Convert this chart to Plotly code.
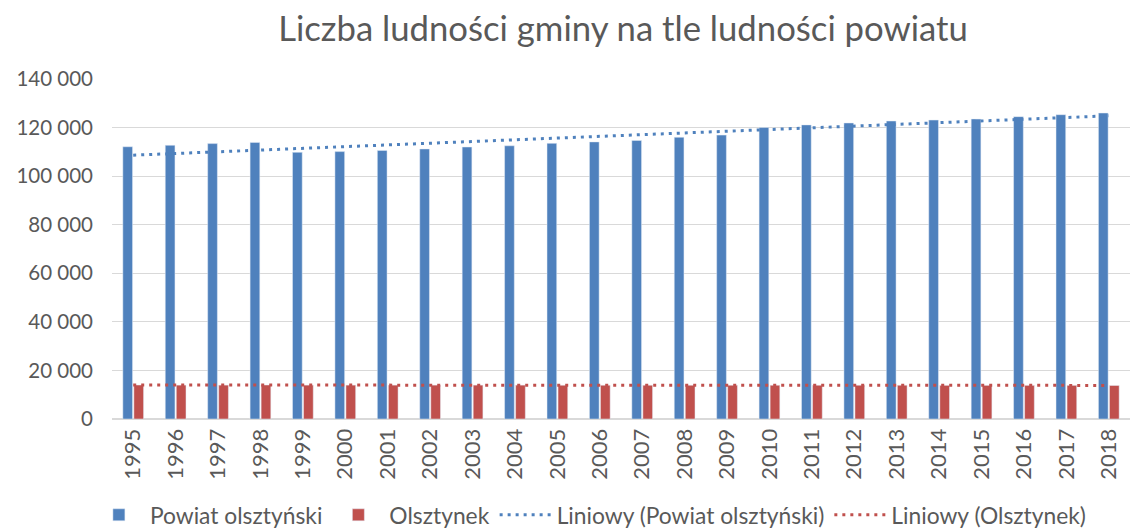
import numpy as np
import plotly.graph_objects as go

years = [str(y) for y in range(1995, 2019)]
powiat = [112100, 112700, 113400, 113900, 109800, 110100, 110600, 111200,
          112000, 112500, 113500, 114100, 114700, 116000, 116900, 120000,
          121100, 121900, 122700, 123100, 123500, 124500, 125300, 126000]
olsztynek = [14000, 13950, 13950, 14000, 13950, 13950, 13950, 13950,
             13950, 13950, 13900, 13900, 13900, 13900, 13900, 13900,
             13900, 13900, 13900, 13850, 13850, 13850, 13850, 13800]

idx = np.arange(len(years))
trend_p = np.polyval(np.polyfit(idx, powiat, 1), idx)
trend_o = np.polyval(np.polyfit(idx, olsztynek, 1), idx)

BLUE = "#4f81bd"
RED = "#c0504d"
TXT = "#595959"
FONT = "Lato"

fig = go.Figure()
fig.add_trace(go.Bar(x=years, y=powiat, name="Powiat olsztyński", marker_color=BLUE))
fig.add_trace(go.Bar(x=years, y=olsztynek, name="Olsztynek", marker_color=RED))
fig.add_trace(go.Scatter(x=years, y=trend_p, mode="lines", name="Liniowy (Powiat olsztyński)",
                         line=dict(color=BLUE, width=3, dash="3px,5px")))
fig.add_trace(go.Scatter(x=years, y=trend_o, mode="lines", name="Liniowy (Olsztynek)",
                         line=dict(color=RED, width=3, dash="3px,5px")))

fig.update_layout(
    width=1141, height=532,
    margin=dict(l=112, r=11, t=79, b=113, autoexpand=False),
    paper_bgcolor="white", plot_bgcolor="white",
    separators=", ",
    font=dict(family=FONT, color=TXT, size=20),
    title=dict(text="Liczba ludności gminy na tle ludności powiatu",
               x=0.546, xanchor="center", y=0.945, yanchor="middle",
               font=dict(family=FONT, size=34.7, color=TXT)),
    barmode="group", bargap=0.48, bargroupgap=0.12,
    showlegend=True,
    legend=dict(orientation="h", xref="container", x=0.517, xanchor="center",
                yref="container", y=0.032, yanchor="middle",
                font=dict(family=FONT, size=22.8, color=TXT), itemwidth=52,
                traceorder="normal"),
    xaxis=dict(type="category", tickangle=-90, showgrid=False, showline=True,
               linecolor="#d9d9d9", linewidth=1, ticks="", automargin=False,
               tickfont=dict(family=FONT, size=22, color=TXT)),
    yaxis=dict(range=[0, 140000], dtick=20000, tickformat=",d", showgrid=True,
               gridcolor="#d9d9d9", gridwidth=1, zeroline=True, zerolinecolor="#d9d9d9",
               showline=False, ticks="", ticklabelstandoff=18, automargin=False,
               tickfont=dict(family=FONT, size=20.5, color=TXT)),
)

fig.write_html("out.html", config={"displayModeBar": False},
               post_script="document.body.style.margin='0';")
